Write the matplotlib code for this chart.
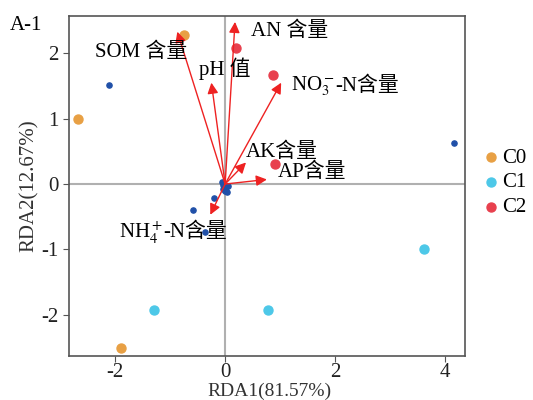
import numpy as np
import matplotlib.pyplot as plt

plt.rcParams['font.family'] = ['Liberation Serif', 'Noto Sans CJK SC']
plt.rcParams['mathtext.fontset'] = 'stix'
plt.rcParams['axes.unicode_minus'] = False

# Sample scores
c0_x = [-0.75, -2.67, -1.89]
c0_y = [2.28, 1.00, -2.50]
c1_x = [-1.29, 0.78, 3.62]
c1_y = [-1.93, -1.93, -1.00]
c2_x = [0.20, 0.87, 0.91]
c2_y = [2.08, 1.67, 0.31]

# Species scores (small blue points)
sp_x = [-2.11, 4.16, -0.58, -0.20, -0.36, -0.05, -0.03, 0.02, 0.05, 0.00, -0.04, 0.03]
sp_y = [1.52, 0.63, -0.39, -0.22, -0.74, 0.03, -0.02, -0.05, -0.03, -0.10, -0.08, -0.12]

# Environmental vectors (label = head part + tail part)
env_head = ['SOM 含量', 'pH 值', 'AN 含量', r'NO$_3^-$', 'AK含量', 'AP含量', r'NH$_4^+$']
env_tail = ['', '', '', '-N含量', '', '', '-N含量']
env_x = [-0.87, -0.25, 0.18, 1.02, 0.38, 0.76, -0.27]
env_y = [2.33, 1.55, 2.48, 1.55, 0.33, 0.07, -0.47]
lab_x = [-2.36, -0.47, 0.47, 1.20, 0.38, 0.96, -1.93]
lab_y = [2.02, 1.76, 2.33, 1.50, 0.48, 0.18, -0.74]

fig = plt.figure(figsize=(5.33, 4.0), dpi=100)
ax = fig.add_axes([0.1295, 0.11, 0.7425, 0.85])

ax.axhline(0, color='#b0b0b0', lw=1.5, zorder=0)
ax.axvline(0, color='#b0b0b0', lw=1.5, zorder=0)

ax.scatter(c0_x, c0_y, s=42, color='#E8A044', label='C0', zorder=3)
ax.scatter(c1_x, c1_y, s=42, color='#4DC8E8', label='C1', zorder=3)
ax.scatter(c2_x, c2_y, s=42, color='#E8404E', label='C2', zorder=3)
ax.scatter(sp_x, sp_y, s=14, color='#2050A8', zorder=3)

for head, tail, x, y, lx, ly in zip(env_head, env_tail, env_x, env_y, lab_x, lab_y):
    ax.annotate('', xy=(x, y), xytext=(0, 0),
                arrowprops=dict(arrowstyle='-|>', color='#EE2222', lw=1.0,
                                mutation_scale=16, shrinkA=0, shrinkB=0),
                zorder=4)
    t = ax.text(lx, ly, head, fontsize=15, va='center', ha='left', zorder=5)
    if tail:
        ax.annotate(tail, xy=(1, 0.5), xycoords=t, fontsize=15,
                    va='center', ha='left', zorder=5)

ax.set_xlim(-2.84, 4.36)
ax.set_ylim(-2.63, 2.57)
ax.set_xticks([-2, 0, 2, 4])
ax.set_yticks([-2, -1, 0, 1, 2])
ax.tick_params(labelsize=15, length=4, color='#555555', labelcolor='#222222')
ax.tick_params(axis='x', pad=1)
for s in ax.spines.values():
    s.set_color('#555555')
    s.set_linewidth(1.2)

ax.set_ylabel('RDA2(12.67%)', fontsize=15, color='#333333', labelpad=2)
# x label sits right at the bottom edge of the figure
fig.text(0.505, 0.0, 'RDA1(81.57%)', fontsize=14, color='#333333',
         ha='center', va='bottom')

ax.legend(loc='center left', bbox_to_anchor=(1.023, 0.51), frameon=False,
          fontsize=15, handlelength=0.8, handletextpad=0.15, labelspacing=0.25,
          borderaxespad=0)

fig.text(0.018, 0.935, 'A-1', fontsize=15, va='center')

fig.savefig('out.png', dpi=100)
